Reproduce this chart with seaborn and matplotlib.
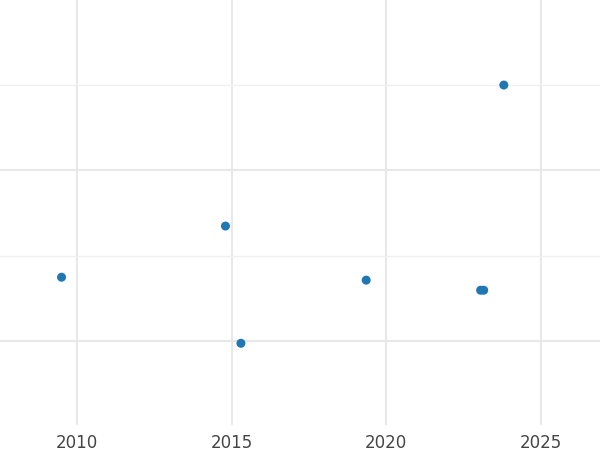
import matplotlib
matplotlib.use("Agg")
import matplotlib.pyplot as plt
from matplotlib.ticker import MultipleLocator, NullFormatter
import pandas as pd
import seaborn as sns

years = [2009.5, 2014.8, 2015.3, 2019.35, 2023.05, 2023.15, 2023.8]
values = [0.374, 0.673, -0.012, 0.357, 0.298, 0.298, 1.497]

sns.set_theme(style="white")
plt.rcParams["font.family"] = ["DejaVu Sans"]

df = pd.DataFrame({"year": years, "value": values})
fig = plt.figure(figsize=(6, 4.5), dpi=100)
ax = fig.add_axes([0, 0.055, 1, 0.945])
sns.scatterplot(data=df, x="year", y="value", ax=ax, color="#1f77b4",
                s=42, edgecolor="none", zorder=3)

ax.set_xlim(2007.51, 2026.91)
ax.set_ylim(-0.491, 1.994)
ax.xaxis.set_major_locator(MultipleLocator(5))
ax.yaxis.set_major_locator(MultipleLocator(1))
ax.yaxis.set_minor_locator(MultipleLocator(0.5))
ax.yaxis.set_major_formatter(NullFormatter())
ax.grid(which="major", color="#e8e8e8", linewidth=1.5)
ax.grid(which="minor", axis="y", color="#f0f0f0", linewidth=1)
for s in ax.spines.values():
    s.set_visible(False)
ax.tick_params(axis="x", labelsize=12, colors="#444444", length=0, pad=6)
ax.tick_params(axis="y", length=0)
ax.set_xlabel("")
ax.set_ylabel("")
fig.savefig("out.png")
